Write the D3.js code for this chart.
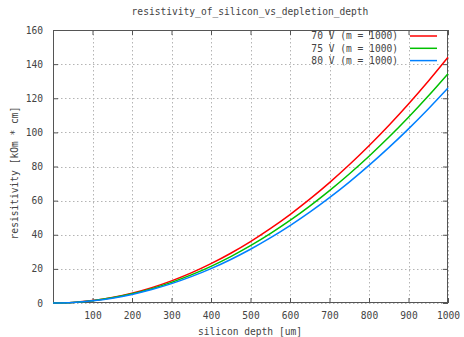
<!DOCTYPE html>
<html>
<head>
<meta charset="utf-8">
<script src="https://cdn.jsdelivr.net/npm/d3@7"></script>
<style>
  body { margin: 0; background: #fff; }
  text { font-family: "DejaVu Sans Mono", monospace; font-size: 9.6px; fill: #444; }
</style>
</head>
<body>
<script>
// depth in um, resistivity in kOhm*cm
const depth = [0, 50, 100, 150, 200, 250, 300, 350, 400, 450, 500,
               550, 600, 650, 700, 750, 800, 850, 900, 950, 1000];
const rho70 = [0, 0.36, 1.44, 3.24, 5.76, 9.0, 12.96, 17.64, 23.04, 29.16, 36.0,
               43.56, 51.84, 60.84, 70.56, 81.0, 92.16, 104.04, 116.64, 129.96, 144.0];
const rho75 = [0, 0.34, 1.34, 3.02, 5.38, 8.4, 12.1, 16.46, 21.5, 27.22, 33.6,
               40.66, 48.38, 56.78, 65.86, 75.6, 86.02, 97.1, 108.86, 121.3, 134.4];
const rho80 = [0, 0.32, 1.26, 2.84, 5.04, 7.88, 11.34, 15.44, 20.16, 25.52, 31.5,
               38.12, 45.36, 53.24, 61.74, 70.88, 80.64, 91.04, 102.06, 113.72, 126.0];
const seriesNames = ["70 V (m = 1000)", "75 V (m = 1000)", "80 V (m = 1000)"];
const seriesColors = ["#ff0000", "#00c000", "#0080ff"];
const xTicks = [100, 200, 300, 400, 500, 600, 700, 800, 900, 1000];
const yTicks = [0, 20, 40, 60, 80, 100, 120, 140, 160];

let margin = {top: 30, right: 16, bottom: 34, left: 53},
    width = 464 - margin.left - margin.right,
    height = 337 - margin.top - margin.bottom;

let svg = d3.select("body").append("svg")
    .attr("width", 464)
    .attr("height", 337);

let g = svg.append("g")
    .attr("transform", "translate(" + margin.left + "," + margin.top + ")");

let x = d3.scaleLinear().domain([0, 1000]).range([0, width]);
let y = d3.scaleLinear().domain([0, 160]).range([height, 0]);

// grid
g.selectAll(".gx").data(xTicks).enter().append("line")
    .attr("x1", d => Math.round(x(d)) + 0.5).attr("x2", d => Math.round(x(d)) + 0.5)
    .attr("y1", 0).attr("y2", height)
    .attr("stroke", "#b4b4b4").attr("stroke-dasharray", "1.5,2.5");
g.selectAll(".gy").data(yTicks).enter().append("line")
    .attr("y1", d => Math.round(y(d)) + 0.5).attr("y2", d => Math.round(y(d)) + 0.5)
    .attr("x1", 0).attr("x2", width)
    .attr("stroke", "#b4b4b4").attr("stroke-dasharray", "1.5,2.5");

// axes, ticks inward and mirrored
let fmt = d3.format("d");
let xAxis = g.append("g").attr("transform", "translate(0," + height + ")")
    .call(d3.axisBottom(x).tickValues(xTicks).tickSizeInner(-5).tickSizeOuter(0).tickPadding(9).tickFormat(fmt));
let xTop = g.append("g")
    .call(d3.axisTop(x).tickValues(xTicks).tickSizeInner(-5).tickSizeOuter(0).tickFormat(""));
let yAxis = g.append("g")
    .call(d3.axisLeft(y).tickValues(yTicks).tickSizeInner(-5).tickSizeOuter(0).tickPadding(10).tickFormat(fmt));
let yRight = g.append("g").attr("transform", "translate(" + width + ",0)")
    .call(d3.axisRight(y).tickValues(yTicks).tickSizeInner(-5).tickSizeOuter(0).tickFormat(""));
[xAxis, xTop, yAxis, yRight].forEach(a => {
    a.select(".domain").remove();
    a.selectAll("line").attr("stroke", "#555");
    a.selectAll("text").attr("font-family", null).attr("font-size", null);
});

// border
g.append("rect")
    .attr("x", 0.5).attr("y", 0.5)
    .attr("width", width - 1).attr("height", height - 1)
    .attr("fill", "none").attr("stroke", "#555");

// curves
let series = [rho70, rho75, rho80];
let line = d3.line()
    .x((d, i) => x(depth[i]))
    .y(d => y(d))
    .curve(d3.curveMonotoneX);
g.selectAll(".curve").data(series).enter().append("path")
    .attr("d", d => line(d))
    .attr("fill", "none")
    .attr("stroke", (d, i) => seriesColors[i])
    .attr("stroke-width", 1.5);

// legend
let legend = svg.append("g");
seriesNames.forEach((name, i) => {
    let ly = 36 + i * 12.3;
    legend.append("text")
        .attr("x", 398).attr("y", ly).attr("dy", "0.35em")
        .attr("text-anchor", "end").text(name);
    legend.append("line")
        .attr("x1", 410).attr("x2", 437)
        .attr("y1", ly).attr("y2", ly)
        .attr("stroke", seriesColors[i]).attr("stroke-width", 1.5);
});

// title and labels
svg.append("text")
    .attr("x", 250).attr("y", 12).attr("dy", "0.35em")
    .attr("text-anchor", "middle")
    .text("resistivity_of_silicon_vs_depletion_depth");
svg.append("text")
    .attr("x", 250).attr("y", 332).attr("dy", "0.35em")
    .attr("text-anchor", "middle")
    .text("silicon depth [um]");
svg.append("text")
    .attr("transform", "translate(15,173) rotate(-90)")
    .attr("dy", "0.35em")
    .attr("text-anchor", "middle")
    .text("resisitivity [kOm * cm]");
</script>
</body>
</html>
